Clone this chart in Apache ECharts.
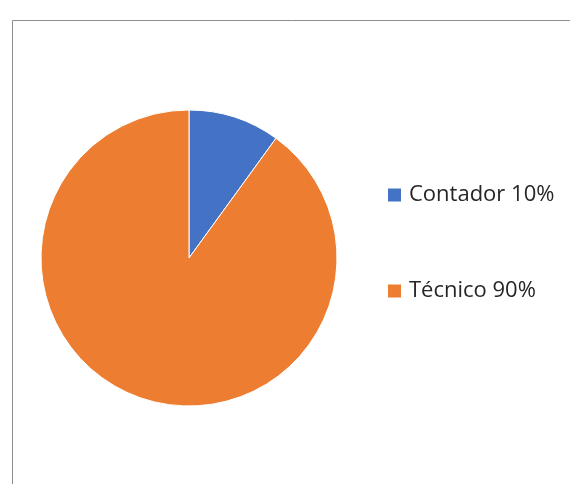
<!DOCTYPE html>
<html>
<head>
<meta charset="utf-8">
<script src="https://cdn.jsdelivr.net/npm/echarts@6/dist/echarts.min.js"></script>
<style>
  html, body { margin: 0; padding: 0; background: #fff; }
  #chart { width: 570px; height: 484px; }
</style>
</head>
<body>
<div id="chart"></div>
<script>
const categories = ['Contador', 'Técnico'];
const values = [10, 90];
const colors = ['#4472C4', '#ED7D31'];

const total = values.reduce((a, b) => a + b, 0);
const pct = {};
categories.forEach((c, i) => { pct[c] = Math.round(values[i] / total * 100); });

const myChart = echarts.init(document.getElementById('chart'));
myChart.setOption({
  animation: false,
  graphic: [{
    type: 'rect',
    shape: { x: 12.5, y: 20.5, width: 620, height: 520 },
    style: { fill: 'none', stroke: '#8c8c8c', lineWidth: 1 }
  }],
  legend: {
    orient: 'vertical',
    left: 386,
    top: 184,
    padding: 0,
    itemWidth: 15,
    itemHeight: 15,
    itemGap: 74,
    icon: 'rect',
    formatter: name => name + ' ' + pct[name] + '%',
    textStyle: {
      fontFamily: 'Open Sans',
      fontSize: 22,
      lineHeight: 22,
      color: '#262626',
      padding: [0, 0, 0, 2]
    }
  },
  series: [{
    type: 'pie',
    center: [189, 258],
    radius: 148,
    startAngle: 90,
    clockwise: true,
    label: { show: false },
    labelLine: { show: false },
    itemStyle: { borderColor: '#fff', borderWidth: 1 },
    data: categories.map((c, i) => ({
      name: c,
      value: values[i],
      itemStyle: { color: colors[i] }
    }))
  }]
});
</script>
</body>
</html>
